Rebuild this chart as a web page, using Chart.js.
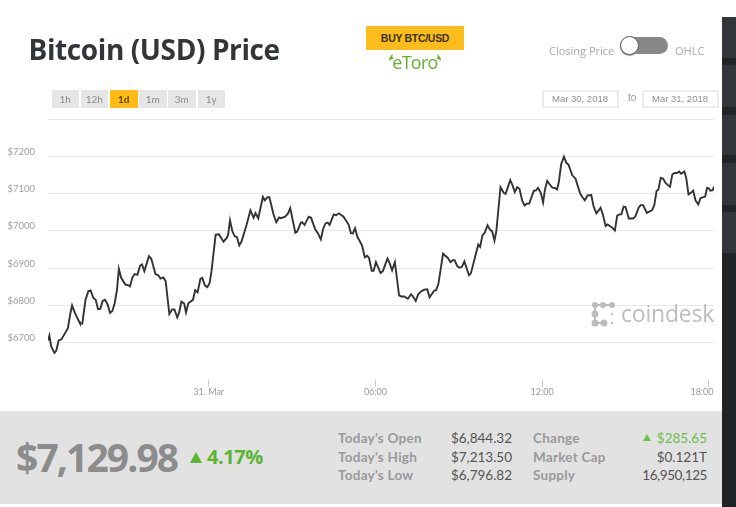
<!DOCTYPE html>
<html>
<head>
<meta charset="utf-8">
<title>Bitcoin (USD) Price</title>
<script src="https://cdn.jsdelivr.net/npm/chart.js@4"></script>
<style>
html, body { margin: 0; padding: 0; background: #fff; width: 736px; height: 507px; overflow: hidden; font-family: Lato, sans-serif; }
#mychart { position: absolute; left: 0; top: 0; }
.abs { position: absolute; white-space: nowrap; }
#title { left: 28.5px; top: 30px; font: 700 28px/38px "Open Sans", sans-serif; letter-spacing: -0.4px; color: #333639; }
.range { position: absolute; top: 90px; width: 27.5px; height: 18px; background: #e6e6e6; color: #8a8a8a; font-size: 10px; line-height: 18px; text-align: center; }
.range.on { background: #fdbb13; color: #5a4400; font-weight: 700; }
#buy { left: 366px; top: 26px; width: 98px; height: 24px; background: #fbbc1c; color: #3c3208; font: 700 10.5px/24px "Liberation Sans", sans-serif; letter-spacing: -0.3px; text-align: center; }
#etoro { left: 366px; top: 51px; width: 98px; text-align: center; color: #68b030; font: 400 18px/22px "Open Sans", sans-serif; letter-spacing: -0.7px; }
.switchlabel { top: 43px; font: 400 11px/15px "Open Sans", sans-serif; color: #a8a8a8; }
#track { left: 622px; top: 37px; width: 46px; height: 17px; border-radius: 9px; background: #888; }
#knob { left: 620px; top: 36px; width: 17px; height: 17px; border-radius: 50%; background: #fff; border: 1.5px solid #555; box-shadow: 0 1px 1px #999; }
.datebox { position: absolute; top: 90px; width: 73px; height: 14px; border: 2px solid #ececec; color: #8f8f8f; font: 400 9.5px/14px "Liberation Sans", sans-serif; text-align: center; }
#side { left: 722px; top: 17px; width: 14px; height: 490px; background: #212427; }
.sideblock { position: absolute; left: 722px; width: 14px; background: #33363a; }
#panel { left: 0; top: 411px; width: 722px; height: 93px; background: #e2e2e2; }
#price { left: 16px; top: 433px; font: 700 39px/48px "Open Sans", sans-serif; letter-spacing: -1.9px; color: #8c8c8c; }
#tri { left: 190px; top: 452px; width: 0; height: 0; border-left: 6.5px solid transparent; border-right: 6.5px solid transparent; border-bottom: 11px solid #5cb531; }
#pct { left: 207px; top: 444px; font: 700 20px/26px "Open Sans", sans-serif; letter-spacing: -0.45px; color: #5cb531; }
#tri2 { left: 643px; top: 434px; width: 0; height: 0; border-left: 4px solid transparent; border-right: 4px solid transparent; border-bottom: 7px solid #6cbf4a; }
.lab { font: 700 13.5px/18px Lato, sans-serif; color: #999; letter-spacing: 0.25px; }
.val { font: 400 13.5px/18px Lato, sans-serif; color: #555; text-align: right; }
#coin { left: 621px; top: 297px; font: 400 23px/32px "Open Sans", sans-serif; letter-spacing: -0.2px; color: #bcbcbc; }
</style>
</head>
<body>
<canvas id="mychart" width="736" height="507"></canvas>

<div class="abs" id="title">Bitcoin (USD) Price</div>

<div class="range" style="left:51.5px">1h</div>
<div class="range" style="left:80.5px">12h</div>
<div class="range on" style="left:110px">1d</div>
<div class="range" style="left:139px">1m</div>
<div class="range" style="left:168px">3m</div>
<div class="range" style="left:197.5px">1y</div>

<div class="abs" id="buy">BUY BTC/USD</div>
<div class="abs" id="etoro">eToro</div>
<svg class="abs" style="left:388px;top:53px" width="54" height="10" viewBox="0 0 54 10">
  <path d="M5 1C2 3 1 5 1 8C3 6 4 6 6 6C4 5 4 3 5 1Z" fill="#68b030"/>
  <path d="M49 1C52 3 53 5 53 8C51 6 50 6 48 6C50 5 50 3 49 1Z" fill="#68b030"/>
</svg>

<div class="abs switchlabel" style="left:549px">Closing Price</div>
<div class="abs" id="track"></div>
<div class="abs" id="knob"></div>
<div class="abs switchlabel" style="left:675px">OHLC</div>

<div class="datebox" style="left:541.5px">Mar 30, 2018</div>
<div class="abs" style="left:628px;top:91px;font:400 10px/14px 'Liberation Sans',sans-serif;color:#999">to</div>
<div class="datebox" style="left:641.5px">Mar 31, 2018</div>

<div class="abs" id="side"></div>
<div class="sideblock" style="top:17px;height:41px"></div>
<div class="sideblock" style="top:65px;height:42px"></div>
<div class="sideblock" style="top:115px;height:40px"></div>
<div class="sideblock" style="top:163px;height:42px"></div>
<div class="sideblock" style="top:212px;height:41px"></div>

<svg class="abs" style="left:591px;top:302px" width="25" height="25" viewBox="0 0 25 25">
  <g fill="#bcbcbc" stroke="#bcbcbc" stroke-width="2">
    <path d="M4 3H21M4 3V21H13" fill="none"/>
    <circle cx="4" cy="3" r="2"/><circle cx="12" cy="3" r="2"/><circle cx="21" cy="3" r="2"/>
    <circle cx="4" cy="12" r="2.5"/><circle cx="4" cy="21" r="2.5"/><circle cx="13" cy="21" r="2.5"/>
  </g>
  <g fill="#bcbcbc"><circle cx="21" cy="12" r="1.2"/><circle cx="21" cy="21" r="1.2"/></g>
</svg>
<div class="abs" id="coin">coindesk</div>

<div class="abs" id="panel"></div>
<div class="abs" id="price">$7,129.98</div>
<div class="abs" id="tri"></div>
<div class="abs" id="pct">4.17%</div>

<div class="abs lab" style="left:338px;top:429px">Today's Open</div>
<div class="abs lab" style="left:338px;top:448px">Today's High</div>
<div class="abs lab" style="left:338px;top:466px">Today's Low</div>
<div class="abs val" style="left:432px;width:80px;top:429px">$6,844.32</div>
<div class="abs val" style="left:432px;width:80px;top:448px">$7,213.50</div>
<div class="abs val" style="left:432px;width:80px;top:466px">$6,796.82</div>
<div class="abs lab" style="left:533px;top:429px">Change</div>
<div class="abs lab" style="left:533px;top:448px">Market Cap</div>
<div class="abs lab" style="left:533px;top:466px">Supply</div>
<div class="abs" id="tri2"></div>
<div class="abs val" style="left:627px;width:80px;top:429px;color:#6cbf4a">$285.65</div>
<div class="abs val" style="left:627px;width:80px;top:448px">$0.121T</div>
<div class="abs val" style="left:627px;width:80px;top:466px;letter-spacing:-0.4px">16,950,125</div>

<script>
// minutes from midnight on 31 Mar
var minutes = [
    -347, -344, -340, -335, -333, -329, -324, -318, -304, -299, -295, -289, -280, -278, -273, -266, -260, -255, -249, -244,
    -239, -234, -229, -224, -218, -213, -208, -203, -198, -194, -189, -180, -173, -170, -165, -160, -154, -148, -144, -139,
    -129, -124, -115, -109, -104, -98, -93, -85, -79, -74, -68, -64, -59, -53, -49, -44, -34, -29, -24, -18,
    -14, -8, -3, 2, 6, 15, 22, 32, 39, 42, 46, 51, 56, 61, 66, 71, 82, 90, 97, 101,
    107, 117, 121, 127, 131, 140, 146, 152, 156, 165, 171, 176, 187, 191, 199, 202, 207, 216, 221, 230,
    236, 242, 247, 252, 257, 261, 270, 275, 281, 291, 302, 307, 311, 316, 321, 331, 337, 342, 346, 352,
    356, 361, 371, 376, 386, 391, 396, 402, 411, 416, 422, 430, 437, 441, 447, 452, 458, 465, 472, 477,
    487, 491, 496, 506, 512, 516, 522, 527, 531, 537, 542, 547, 552, 562, 566, 582, 586, 591, 596, 602,
    608, 612, 617, 621, 630, 637, 641, 645, 651, 656, 661, 666, 671, 677, 682, 687, 692, 702, 706, 711,
    717, 722, 726, 731, 736, 742, 747, 752, 756, 761, 767, 772, 777, 785, 792, 802, 807, 812, 818, 826,
    831, 837, 842, 846, 851, 857, 861, 870, 877, 882, 887, 891, 896, 900, 907, 916, 921, 929, 933, 938,
    946, 952, 957, 962, 967, 971, 976, 981, 986, 992, 996, 1001, 1006, 1011, 1016, 1020, 1027, 1031, 1036, 1041,
    1046, 1051, 1057, 1062, 1067, 1072, 1076, 1080, 1083, 1088, 1091
];
var prices = [
    6706, 6719, 6690, 6677, 6673, 6679, 6706, 6709, 6739, 6777, 6800, 6780, 6757, 6752, 6751, 6815, 6838, 6840, 6820, 6815,
    6790, 6791, 6812, 6815, 6802, 6780, 6785, 6806, 6842, 6898, 6874, 6856, 6854, 6851, 6874, 6884, 6882, 6907, 6910, 6892,
    6932, 6925, 6884, 6881, 6872, 6875, 6865, 6777, 6789, 6789, 6768, 6780, 6810, 6805, 6781, 6806, 6815, 6841, 6835, 6871,
    6874, 6853, 6849, 6860, 6892, 6990, 6991, 6971, 6981, 6990, 7028, 6999, 6986, 6983, 6961, 6972, 7017, 7055, 7035, 7048,
    7034, 7091, 7082, 7090, 7090, 7044, 7023, 7036, 7034, 7038, 7046, 7061, 6995, 6998, 7022, 7023, 7016, 7038, 7035, 7004,
    6993, 6977, 7005, 7020, 7022, 7016, 7044, 7042, 7047, 7038, 7017, 6994, 6993, 7007, 6984, 6961, 6929, 6933, 6928, 6893,
    6893, 6916, 6887, 6892, 6926, 6912, 6894, 6916, 6827, 6824, 6824, 6818, 6830, 6824, 6812, 6829, 6837, 6842, 6843, 6822,
    6840, 6841, 6858, 6939, 6932, 6928, 6916, 6921, 6921, 6905, 6901, 6904, 6918, 6881, 6886, 6963, 6957, 6988, 6995, 7015,
    7002, 6999, 6974, 6999, 7117, 7102, 7099, 7114, 7136, 7122, 7104, 7117, 7113, 7080, 7068, 7073, 7073, 7108, 7108, 7115,
    7102, 7076, 7111, 7134, 7125, 7116, 7115, 7111, 7131, 7179, 7199, 7183, 7177, 7149, 7140, 7100, 7090, 7082, 7095, 7096,
    7066, 7047, 7055, 7062, 7044, 7013, 7017, 7010, 7001, 7041, 7044, 7045, 7065, 7064, 7033, 7033, 7038, 7064, 7069, 7069,
    7048, 7052, 7055, 7068, 7107, 7111, 7142, 7140, 7129, 7122, 7118, 7151, 7155, 7155, 7159, 7153, 7159, 7142, 7098, 7102,
    7108, 7082, 7071, 7088, 7090, 7092, 7115, 7114, 7108, 7109, 7119
];

var timeTicks = [0, 360, 720, 1080];
// the last label sits left of its tick in the picture, trailing spaces push it over
var timeLabels = ["31. Mar", "06:00", "12:00", "18:00\u00a0\u00a0\u00a0\u00a0\u00a0\u00a0"];
var priceLabels = [6700, 6800, 6900, 7000, 7100, 7200];

var points = minutes.map(function(m, i) { return { x: m, y: prices[i] }; });

var myChart = new Chart(document.getElementById('mychart'), {
    type: 'line',
    data: {
        datasets: [{
            label: 'Closing Price',
            data: points,
            borderColor: '#333333',
            borderWidth: 1.9,
            pointRadius: 0,
            tension: 0,
            fill: false
        }]
    },
    options: {
        responsive: false,
        animation: false,
        devicePixelRatio: 1,
        layout: { padding: { left: 0, right: 22, top: 119, bottom: 0 } },
        plugins: { legend: { display: false }, tooltip: { enabled: false } },
        scales: {
            x: {
                type: 'linear',
                min: -347,
                max: 1091,
                afterFit: function(scale) { scale.height = 127; },
                afterBuildTicks: function(scale) {
                    scale.ticks = timeTicks.map(function(v) { return { value: v }; });
                },
                border: { display: false },
                grid: { drawOnChartArea: false, tickLength: 7, tickColor: '#cccccc' },
                ticks: {
                    autoSkip: false,
                    maxRotation: 0,
                    padding: 0,
                    color: '#999999',
                    font: { family: 'Lato', size: 9 },
                    callback: function(value) {
                        return timeLabels[timeTicks.indexOf(value)];
                    }
                }
            },
            y: {
                min: 6600,
                max: 7300,
                afterFit: function(scale) { scale.width = 48; },
                border: { display: false },
                grid: {
                    drawTicks: false,
                    color: function(ctx) {
                        return ctx.tick.value == 6600 ? 'transparent' : '#e8e8e8';
                    }
                },
                ticks: {
                    stepSize: 100,
                    padding: 13,
                    color: '#a0a0a0',
                    font: { family: 'Lato', size: 9.5, lineHeight: '9px' },
                    // the empty second line lifts the label above its grid line
                    callback: function(value) {
                        if (priceLabels.indexOf(value) < 0) { return ''; }
                        return ['$' + value, ''];
                    }
                }
            }
        }
    }
});
</script>
</body>
</html>
